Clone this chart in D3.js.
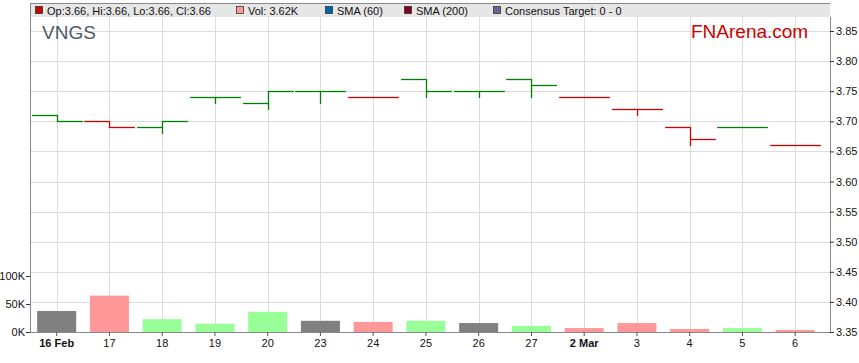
<!DOCTYPE html>
<html><head><meta charset="utf-8">
<script src="https://cdn.jsdelivr.net/npm/d3@7"></script>
<style>body{margin:0;background:#fff;font-family:"Liberation Sans",Arial,sans-serif;}</style>
</head><body>
<svg id="c" width="859" height="363"></svg>
<script>
const categories = ["16 Feb","17","18","19","20","23","24","25","26","27","2 Mar","3","4","5","6"];
const boldLabels = ["16 Feb","2 Mar"];
const opens  = [3.71,3.70,3.69,3.74,3.73,3.75,3.74,3.77,3.75,3.77,3.74,3.72,3.69,3.69,3.66];
const highs  = [3.71,3.70,3.70,3.74,3.75,3.75,3.74,3.77,3.75,3.77,3.74,3.72,3.69,3.69,3.66];
const lows   = [3.70,3.69,3.68,3.73,3.72,3.73,3.74,3.74,3.74,3.74,3.74,3.71,3.66,3.69,3.66];
const closes = [3.70,3.69,3.70,3.74,3.75,3.75,3.74,3.75,3.75,3.76,3.74,3.72,3.67,3.69,3.66];
const priorClose = 3.70;
const volumes = [37500,65000,23000,15000,36000,20000,18000,20000,16000,11000,7000,16000,5400,7000,3620];
const priceTicks = [3.35,3.40,3.45,3.50,3.55,3.60,3.65,3.70,3.75,3.80,3.85];
const volTicks = [0,50000,100000];
const legendItems = [
  {label:"Op:3.66, Hi:3.66, Lo:3.66, Cl:3.66", color:"#cc0000"},
  {label:"Vol: 3.62K", color:"#ff9999"},
  {label:"SMA (60)", color:"#0066aa"},
  {label:"SMA (200)", color:"#800020"},
  {label:"Consensus Target: 0 - 0", color:"#666699"}
];
const legendX = [35, 236, 325, 404, 493];

const svg = d3.select("#c");
const L = 30, R = 830, T = 3, B = 332, bandTop = 17;
const x = d3.scaleBand().domain(categories).range([30.3, 30.3 + 15*52.75]).padding(0);
const bw = x.bandwidth();
const cx = d => x(d) + bw/2;
const y = d3.scaleLinear().domain([3.35,3.85]).range([B, 31]);
const yv = d3.scaleLinear().domain([0,100000]).range([B, 276]);

// legend band
svg.append("rect").attr("x",L).attr("y",T).attr("width",R-L).attr("height",bandTop-T).attr("fill","#e6e6e6");

// gridlines
const g = svg.append("g");
g.selectAll(".hg").data(priceTicks).join("line")
  .attr("x1",L).attr("x2",R).attr("y1",d=>Math.round(y(d))+0.5).attr("y2",d=>Math.round(y(d))+0.5)
  .attr("stroke","#dcdcdc").attr("stroke-width",1);
g.selectAll(".vg").data(categories).join("line")
  .attr("x1",d=>Math.round(cx(d))+0.5).attr("x2",d=>Math.round(cx(d))+0.5).attr("y1",bandTop).attr("y2",B)
  .attr("stroke","#dcdcdc").attr("stroke-width",1);

// volume bars
const dir = closes.map((c,i)=>{const p = i===0?priorClose:closes[i-1]; return c>p?1:(c<p?-1:0);});
const volColor = d => d>0?"#99ff99":(d<0?"#ff9999":"#808080");
const bwBar = bw*0.74;
svg.append("g").selectAll("rect").data(categories).join("rect")
  .attr("x",(d)=>cx(d)-bwBar/2).attr("width",bwBar)
  .attr("y",(d,i)=>yv(volumes[i])).attr("height",(d,i)=>B-yv(volumes[i]))
  .attr("fill",(d,i)=>volColor(dir[i]));

// OHLC
const priceColor = d => d>=0?"#008000":"#d00000";
const oh = svg.append("g").attr("fill","none").attr("stroke-width",1.3);
const half = bw/2 - 1;
categories.forEach((c,i)=>{
  const px = Math.round(cx(c))+0.5;
  const col = priceColor(dir[i]);
  const yy = v => Math.round(y(v))+0.5;
  oh.append("line").attr("x1",px).attr("x2",px).attr("y1",yy(highs[i])-0.5).attr("y2",yy(lows[i])+0.5).attr("stroke",col);
  oh.append("line").attr("x1",px-half).attr("x2",px).attr("y1",yy(opens[i])).attr("y2",yy(opens[i])).attr("stroke",col);
  oh.append("line").attr("x1",px).attr("x2",px+half).attr("y1",yy(closes[i])).attr("y2",yy(closes[i])).attr("stroke",col);
});

// frame
svg.append("path").attr("d",`M${L+0.5},${B}V${T+0.5}H${R}`).attr("fill","none").attr("stroke","#888");

// axes
const ax = svg.append("g").attr("transform",`translate(0,${B})`)
  .call(d3.axisBottom(x).tickSize(4).tickPadding(3));
ax.select(".domain").attr("d",`M${L},0.5H${R}`).attr("stroke","#888");
ax.selectAll(".tick line").attr("stroke","#555");
ax.selectAll("text").attr("font-size","11px").attr("font-family","Liberation Sans, Arial").attr("fill","#111")
  .attr("font-weight",d=>boldLabels.includes(d)?"bold":"normal");

const ar = svg.append("g").attr("transform",`translate(${R},0)`)
  .call(d3.axisRight(y).tickValues(priceTicks).tickFormat(d3.format(".2f")).tickSize(4).tickPadding(2));
ar.select(".domain").attr("d",`M0.5,${bandTop}V${B}`).attr("stroke","#888");
ar.selectAll(".tick line").attr("stroke","#333");
ar.selectAll("text").attr("font-size","11px").attr("font-family","Liberation Sans, Arial").attr("fill","#111");

const al = svg.append("g").attr("transform",`translate(${L},0)`)
  .call(d3.axisLeft(yv).tickValues(volTicks).tickFormat(d=>(d/1000)+"K").tickSize(4).tickPadding(1));
al.select(".domain").remove();
al.selectAll(".tick line").attr("stroke","#333");
al.selectAll("text").attr("font-size","11px").attr("font-family","Liberation Sans, Arial").attr("fill","#111");

// legend
const lg = svg.append("g");
legendItems.forEach((it,i)=>{
  lg.append("rect").attr("x",legendX[i]+0.5).attr("y",6.5).attr("width",7).attr("height",7)
    .attr("fill",it.color).attr("stroke","#333").attr("stroke-width",0.8);
  lg.append("text").attr("x",legendX[i]+12).attr("y",14.5).attr("font-size","11px")
    .attr("fill","#111").text(it.label);
});

// titles
svg.append("text").attr("x",42).attr("y",39).attr("font-size","19px").attr("fill","#505868").text("VNGS");
svg.append("text").attr("x",691).attr("y",38).attr("font-size","19px").attr("fill","#cc0000").text("FNArena.com");
</script>
</body></html>
